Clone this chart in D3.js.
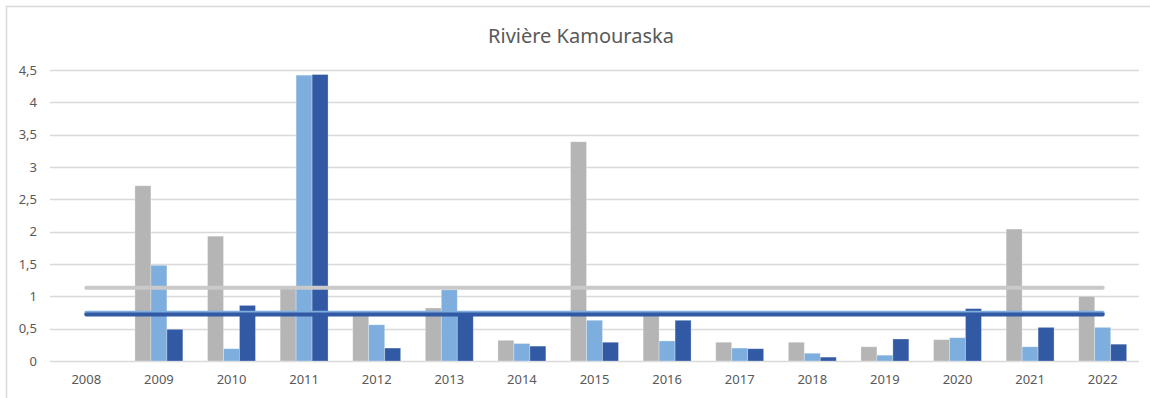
<!DOCTYPE html>
<html>
<head>
<meta charset="utf-8">
<script src="https://cdn.jsdelivr.net/npm/d3@7/dist/d3.min.js"></script>
<style>
  html, body { margin: 0; padding: 0; background: #fff; }
  svg { display: block; }
</style>
</head>
<body>
<svg id="chart" width="1150" height="398"></svg>
<script>
// Years on the horizontal axis
const years = ["2008","2009","2010","2011","2012","2013","2014","2015","2016","2017","2018","2019","2020","2021","2022"];

// Three measured series per year (null = no measurement)
const seriesGray      = [null, 2.71, 1.93, 1.12, 0.70, 0.82, 0.32, 3.39, 0.70, 0.29, 0.29, 0.22, 0.33, 2.04, 1.00];
const seriesLightBlue = [null, 1.48, 0.19, 4.42, 0.56, 1.10, 0.27, 0.63, 0.31, 0.20, 0.12, 0.09, 0.36, 0.22, 0.52];
const seriesDarkBlue  = [null, 0.49, 0.86, 4.43, 0.20, 0.77, 0.23, 0.29, 0.63, 0.19, 0.06, 0.34, 0.81, 0.52, 0.26];

// Value axis ticks
const yTicks = [0, 0.5, 1, 1.5, 2, 2.5, 3, 3.5, 4, 4.5];
const yTickLabels = ["0", "0,5", "1", "1,5", "2", "2,5", "3", "3,5", "4", "4,5"];

const title = "Rivière Kamouraska";

const colors = { gray: "#b5b5b5", light: "#7daedd", dark: "#3259a3", grayLine: "#c9c9c9" };

const svg = d3.select("#chart");
const margin = { left: 50, right: 1139, top: 70, bottom: 361 };

// Chart frame
svg.append("rect")
  .attr("x", 6.5).attr("y", 6.5)
  .attr("width", 1200).attr("height", 400)
  .attr("fill", "none").attr("stroke", "#d9d9d9").attr("stroke-width", 1.5);

const x = d3.scaleBand().domain(years).range([margin.left, margin.right])
  .paddingInner(0.34).paddingOuter(0.17);
const xCenter = d3.scaleBand().domain(years).range([margin.left, margin.right]);
const y = d3.scaleLinear().domain([0, 4.5]).range([margin.bottom, margin.top]);

const keys = ["gray", "light", "dark"];
const xSub = d3.scaleBand().domain(keys).range([0, x.bandwidth()]);

// Gridlines
svg.append("g")
  .selectAll("line").data(yTicks).join("line")
  .attr("x1", margin.left).attr("x2", margin.right)
  .attr("y1", d => Math.round(y(d)) + 0.5).attr("y2", d => Math.round(y(d)) + 0.5)
  .attr("stroke", "#d9d9d9").attr("stroke-width", 1.3);

// Y axis labels
const yAxis = d3.axisLeft(y).tickValues(yTicks)
  .tickFormat((d, i) => yTickLabels[i]).tickSize(0).tickPadding(0);
const gy = svg.append("g").attr("transform", `translate(${margin.left - 13},0)`).call(yAxis);
gy.select(".domain").remove();
gy.selectAll("text")
  .attr("font-family", "'Noto Sans', sans-serif").attr("font-size", 13)
  .attr("fill", "#595959");

// X axis labels
const xAxis = d3.axisBottom(xCenter).tickSize(0).tickPadding(0);
const gx = svg.append("g").attr("transform", `translate(0,${margin.bottom + 14})`).call(xAxis);
gx.select(".domain").remove();
gx.selectAll("text")
  .attr("font-family", "'Noto Sans', sans-serif").attr("font-size", 13)
  .attr("fill", "#595959");

// Bars
const rows = years.map((yr, i) => ({
  year: yr,
  values: [
    { key: "gray", v: seriesGray[i] },
    { key: "light", v: seriesLightBlue[i] },
    { key: "dark", v: seriesDarkBlue[i] }
  ]
}));

svg.append("g")
  .selectAll("g").data(rows).join("g")
  .attr("transform", d => `translate(${x(d.year)},0)`)
  .selectAll("rect").data(d => d.values.filter(e => e.v != null)).join("rect")
  .attr("x", d => xSub(d.key))
  .attr("width", xSub.bandwidth())
  .attr("y", d => y(d.v))
  .attr("height", d => y(0) - y(d.v))
  .attr("fill", d => colors[d.key])
  .attr("stroke", "rgba(255,255,255,0.35)").attr("stroke-width", 0.8);

// Average lines across the period
const avgLines = [
  { key: "grayLine", v: d3.mean(seriesGray) },
  { key: "light", v: d3.mean(seriesLightBlue) },
  { key: "dark", v: d3.mean(seriesDarkBlue) }
];
const xFirst = xCenter(years[0]) + xCenter.bandwidth() / 2;
const xLast = xCenter(years[years.length - 1]) + xCenter.bandwidth() / 2;
svg.append("g")
  .selectAll("line").data(avgLines).join("line")
  .attr("x1", xFirst).attr("x2", xLast)
  .attr("y1", d => y(d.v)).attr("y2", d => y(d.v))
  .attr("stroke", d => colors[d.key])
  .attr("stroke-width", 4)
  .attr("stroke-linecap", "round");

// Title
svg.append("text")
  .attr("x", 581).attr("y", 43)
  .attr("text-anchor", "middle")
  .attr("font-family", "'Noto Sans', sans-serif").attr("font-size", 20)
  .attr("fill", "#595959")
  .text(title);
</script>
</body>
</html>
